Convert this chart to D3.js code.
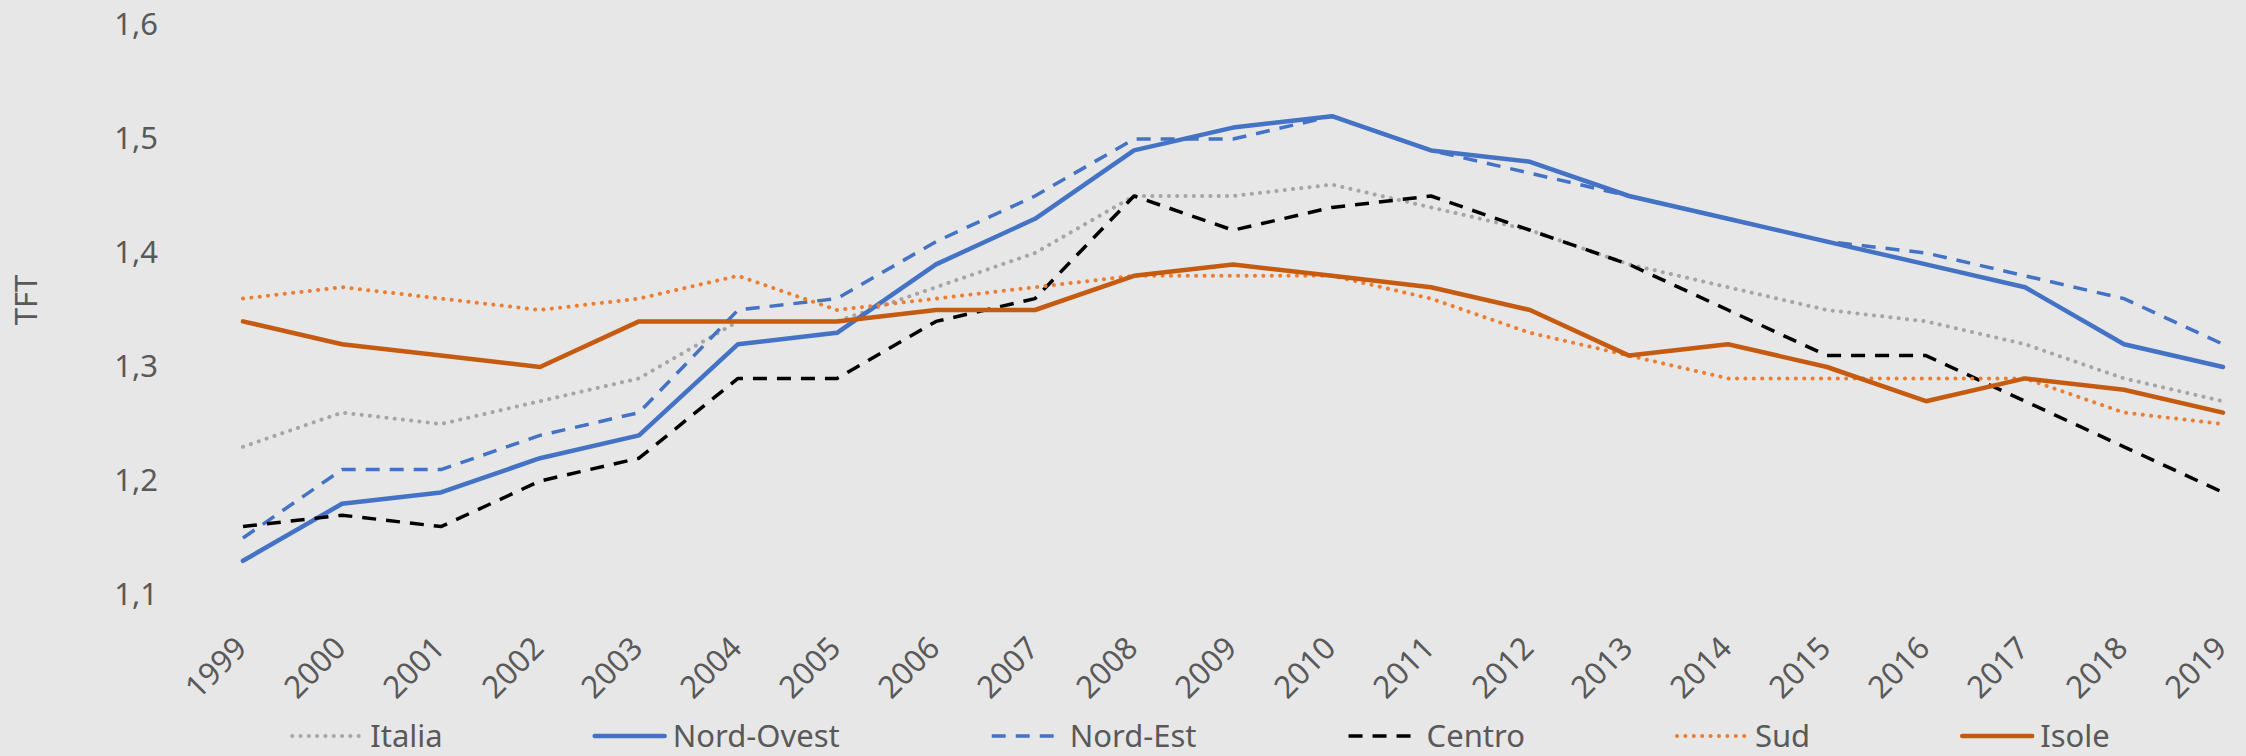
<!DOCTYPE html>
<html>
<head>
<meta charset="utf-8">
<script src="https://cdn.jsdelivr.net/npm/d3@7"></script>
<style>
  html, body { margin: 0; padding: 0; background: #e7e7e7; }
  svg { display: block; font-family: "Noto Sans", sans-serif; }
  .tick text { fill: #595959; font-size: 31px; }
</style>
</head>
<body>
<div id="chart"></div>
<script>
// years on the x axis
const years = [1999, 2000, 2001, 2002, 2003, 2004, 2005, 2006, 2007, 2008, 2009,
               2010, 2011, 2012, 2013, 2014, 2015, 2016, 2017, 2018, 2019];

// TFT per area
const italia    = [1.23, 1.26, 1.25, 1.27, 1.29, 1.34, 1.34, 1.37, 1.40, 1.45, 1.45,
                   1.46, 1.44, 1.42, 1.39, 1.37, 1.35, 1.34, 1.32, 1.29, 1.27];
const nordOvest = [1.13, 1.18, 1.19, 1.22, 1.24, 1.32, 1.33, 1.39, 1.43, 1.49, 1.51,
                   1.52, 1.49, 1.48, 1.45, 1.43, 1.41, 1.39, 1.37, 1.32, 1.30];
const nordEst   = [1.15, 1.21, 1.21, 1.24, 1.26, 1.35, 1.36, 1.41, 1.45, 1.50, 1.50,
                   1.52, 1.49, 1.47, 1.45, 1.43, 1.41, 1.40, 1.38, 1.36, 1.32];
const centro    = [1.16, 1.17, 1.16, 1.20, 1.22, 1.29, 1.29, 1.34, 1.36, 1.45, 1.42,
                   1.44, 1.45, 1.42, 1.39, 1.35, 1.31, 1.31, 1.27, 1.23, 1.19];
const sud       = [1.36, 1.37, 1.36, 1.35, 1.36, 1.38, 1.35, 1.36, 1.37, 1.38, 1.38,
                   1.38, 1.36, 1.33, 1.31, 1.29, 1.29, 1.29, 1.29, 1.26, 1.25];
const isole     = [1.34, 1.32, 1.31, 1.30, 1.34, 1.34, 1.34, 1.35, 1.35, 1.38, 1.39,
                   1.38, 1.37, 1.35, 1.31, 1.32, 1.30, 1.27, 1.29, 1.28, 1.26];

const yTicks = [1.1, 1.2, 1.3, 1.4, 1.5, 1.6];

const W = 2246, H = 756;

// series list: name, values and line style
const series = [
  {name: "Italia",     values: italia,    color: "#a5a5a5", width: 4,   dash: "0.1,8.2", cap: "round"},
  {name: "Nord-Ovest", values: nordOvest, color: "#4472c4", width: 4.5, dash: null,      cap: "round"},
  {name: "Nord-Est",   values: nordEst,   color: "#4472c4", width: 3.5, dash: "14,10",   cap: "butt"},
  {name: "Centro",     values: centro,    color: "#000000", width: 3.5, dash: "14,10",   cap: "butt"},
  {name: "Sud",        values: sud,       color: "#ed7d31", width: 4,   dash: "0.1,8.3", cap: "round"},
  {name: "Isole",      values: isole,     color: "#c55a11", width: 4.5, dash: null,      cap: "round"}
];

const svg = d3.select("#chart").append("svg")
    .attr("width", W)
    .attr("height", H);

svg.append("rect").attr("width", W).attr("height", H).attr("fill", "#e7e7e7");

const x = d3.scalePoint().domain(years).range([243, 2223]);
const y = d3.scaleLinear().domain([1.1, 1.6]).range([595, 25]);

// y axis, no line, comma decimals
let yAxis = svg.append("g")
    .attr("transform", "translate(166,0)")
    .call(d3.axisLeft(y).tickValues(yTicks).tickSize(0).tickPadding(8)
          .tickFormat(d => d3.format(".1f")(d).replace(".", ",")));
yAxis.select(".domain").remove();
yAxis.selectAll("text").attr("font-family", "Noto Sans");

// x axis, rotated labels
let xAxis = svg.append("g")
    .attr("transform", "translate(0,650)")
    .call(d3.axisBottom(x).tickSize(0));
xAxis.select(".domain").remove();
xAxis.selectAll("text")
    .attr("font-family", "Noto Sans")
    .attr("x", 0).attr("y", 0).attr("dy", 0)
    .attr("text-anchor", "end")
    .attr("transform", "translate(5,0) rotate(-45)");

// axis title
svg.append("text")
    .attr("transform", "translate(37,300) rotate(-90)")
    .attr("text-anchor", "middle")
    .attr("fill", "#595959")
    .attr("font-size", 31)
    .text("TFT");

const line = d3.line()
    .x((d, i) => x(years[i]))
    .y(d => y(d));

function styleLine(sel, s) {
  sel.attr("fill", "none")
     .attr("stroke", s.color)
     .attr("stroke-width", s.width)
     .attr("stroke-linecap", s.cap)
     .attr("stroke-linejoin", "round");
  if (s.dash) sel.attr("stroke-dasharray", s.dash);
}

series.forEach(s => {
  svg.append("path").datum(s.values).attr("d", line).call(styleLine, s);
});

// legend, entries centred with equal gaps
const legend = svg.append("g");
const legY = 736, sw = 70, gapText = 8, gapItem = 152;
let items = series.map(s => {
  let g = legend.append("g");
  g.append("line").attr("x1", 0).attr("x2", sw).attr("y1", legY).attr("y2", legY).call(styleLine, s);
  let t = g.append("text")
      .attr("x", sw + gapText).attr("y", legY).attr("dy", "0.357em")
      .attr("fill", "#595959").attr("font-size", 31)
      .text(s.name);
  return {g: g, w: sw + gapText + t.node().getComputedTextLength()};
});
let total = d3.sum(items, d => d.w) + gapItem * (items.length - 1);
let pos = 1201 - total / 2;
items.forEach(it => {
  it.g.attr("transform", "translate(" + pos + ",0)");
  pos += it.w + gapItem;
});
</script>
</body>
</html>
